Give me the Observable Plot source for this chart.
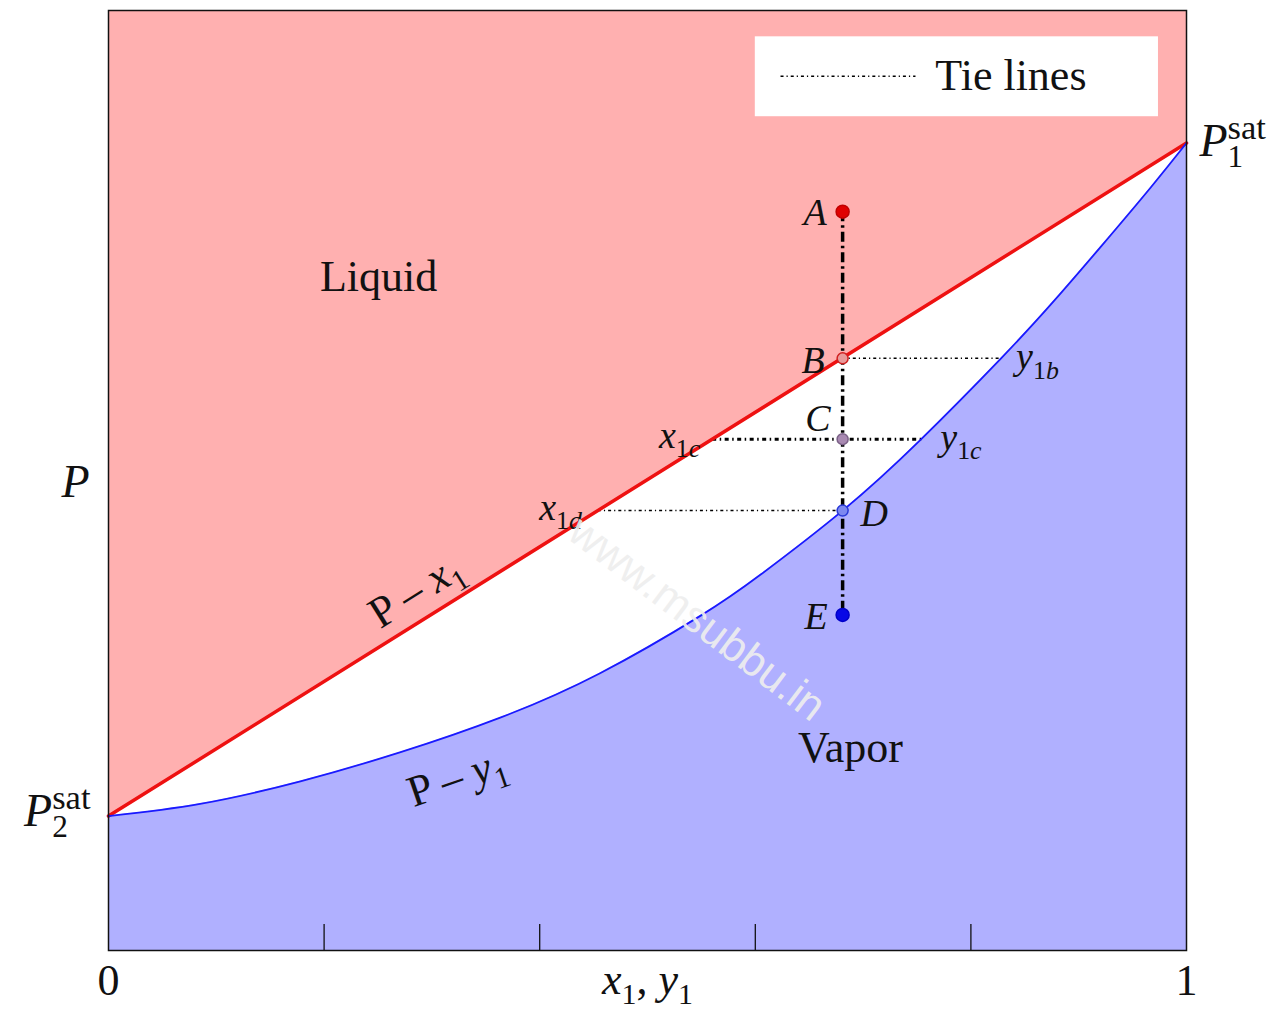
<!DOCTYPE html>
<html>
<head>
<meta charset="utf-8">
<script src="https://cdn.jsdelivr.net/npm/d3@7"></script>
<script src="https://cdn.jsdelivr.net/npm/@observablehq/plot@0.6"></script>
<style>
  html, body { margin: 0; padding: 0; background: #fff; }
</style>
</head>
<body>
<div id="chart"></div>
<script>
// ---- Data: P–x–y diagram of an ideal binary mixture at fixed temperature ----
// Saturation pressures of the pure components (arbitrary pressure units)
const P2sat = 14.3;
const P1sat = 85.9;

// Bubble-point line (P – x1)
const bubbleX1 = [0, 1];
const bubbleP = [P2sat, P1sat];

// Dew-point curve (P – y1)
const dewY1 = [0, 0.085, 0.178, 0.271, 0.364, 0.456, 0.549, 0.605, 0.681, 0.753, 0.828, 0.874, 0.920, 0.967, 1];
const dewP  = [14.3, 15.6, 18.0, 21.1, 24.8, 29.5, 35.6, 40.0, 46.8, 54.3, 63.0, 68.7, 74.8, 81.2, 85.9];

// Isothermal depressurisation of a mixture of overall composition z1
const z1 = 0.681;
const stateNames = ["A", "B", "C", "D", "E"];
const stateP = [78.6, 63.0, 54.4, 46.8, 35.7];

// Tie lines at B, C and D: liquid end x1, vapour end y1
const tieNames = ["b", "c", "d"];
const tieP  = [63.0, 54.4, 46.8];
const tieX1 = [0.681, 0.560, 0.454];
const tieY1 = [0.828, 0.754, 0.681];

// x-axis tick positions and labels
const xTicks = [0.2, 0.4, 0.6, 0.8];
const xTickLabels = [0, 1];

// ---- Tables built from the arrays ----
const bubble = bubbleX1.map((x1, i) => ({x1, P: bubbleP[i]}));
const dew = dewY1.map((y1, i) => ({y1, P: dewP[i]}));
const ties = tieNames.map((name, i) => ({name, P: tieP[i], x1: tieX1[i], y1: tieY1[i]}));

// ---- Styling ----
const PINK = "#ffb0b0", LAVENDER = "#b0b0ff";
const RED = "#ee1111", BLUE = "#1a1aff";
const SERIF = "Liberation Serif";
const Ptop = 100;

const dotStyle = {
  A: {r: 6.5, fill: "#e00000", stroke: "#c00000"},
  B: {r: 5.5, fill: "#e89a9a", stroke: "#d02020"},
  C: {r: 5.5, fill: "#a98ab2", stroke: "#7c6288"},
  D: {r: 5.5, fill: "#7d88f0", stroke: "#2a3ad8"},
  E: {r: 6.5, fill: "#0808e6", stroke: "#0000c8"}
};
// label offsets (px) relative to each state point
const stateLabel = {
  A: {dx: -16, dy: 1, textAnchor: "end"},
  B: {dx: -18, dy: 3, textAnchor: "end"},
  C: {dx: -12, dy: -20, textAnchor: "end"},
  D: {dx: 18, dy: 3, textAnchor: "start"},
  E: {dx: -15, dy: 2, textAnchor: "end"}
};

const thinTie = {stroke: "black", strokeWidth: 1.5, strokeDasharray: "3,3,1.2,3"};
const thickTie = {stroke: "black", strokeWidth: 3, strokeDasharray: "4,3.5,1.5,3.5"};

const txt = (x, y, text, o = {}) =>
  Plot.text([{x, y, text}], {x: "x", y: "y", text: "text", fontSize: 38, fill: "#111", ...o});

const marks = [
  // Liquid region above the bubble line, vapour region below the dew curve
  Plot.areaY(bubble, {x: "x1", y1: "P", y2: Ptop, fill: PINK}),
  Plot.areaY(dew, {x: "y1", y1: 0, y2: "P", fill: LAVENDER, curve: "natural"}),

  // Tie lines
  Plot.link(ties.filter(t => t.name !== "c"), {x1: "x1", x2: "y1", y1: "P", y2: "P", ...thinTie}),
  Plot.link(ties.filter(t => t.name === "c"), {x1: "x1", x2: "y1", y1: "P", y2: "P", ...thickTie}),

  // Path A → E
  Plot.ruleX([z1], {y1: stateP[0], y2: stateP[stateP.length - 1], stroke: "black",
    strokeWidth: 3.5, strokeDasharray: "10,4,2.5,4"}),

  // Saturation curves
  Plot.line(bubble, {x: "x1", y: "P", stroke: RED, strokeWidth: 3.5}),
  Plot.line(dew, {x: "y1", y: "P", stroke: BLUE, strokeWidth: 1.8, curve: "natural"}),

  // State points
  ...stateNames.map((n, i) => Plot.dot([{x: z1, P: stateP[i]}], {x: "x", y: "P", strokeWidth: 1.5, ...dotStyle[n]})),

  // Frame and inner ticks
  Plot.frame({stroke: "#111", strokeWidth: 1.5}),
  Plot.ruleX(xTicks, {x: d => d, insetTop: 914, stroke: "#111", strokeWidth: 1.3}),
  Plot.axisX(xTickLabels, {tickSize: 0, tickPadding: 13, fontSize: 44, label: null, fill: "#111",
    tickFormat: d => String(d)}),

  // Axis titles
  Plot.text(["~x~_{1}, ~y~_{1}"], {x: 0.5, frameAnchor: "bottom", dy: 43, fontSize: 44, fill: "#111"}),
  Plot.text(["~P~"], {frameAnchor: "left", dx: -33, dy: 2, fontSize: 46, fill: "#111", textAnchor: "middle"}),

  // Pure-component saturation pressures
  txt(1, P1sat, "~P~^{sat}_{1}", {dx: 13, dy: -2, fontSize: 46, textAnchor: "start"}),
  txt(0, P2sat, "~P~^{sat}_{2}", {dx: -18, dy: -5, fontSize: 46, textAnchor: "end"}),

  // State letters
  ...stateNames.map((n, i) => txt(z1, stateP[i], `~${n}~`, stateLabel[n])),

  // Tie-line end labels
  txt(tieY1[0], tieP[0], "~y~_{1~b~}", {dx: 15, dy: -1, textAnchor: "start"}),
  txt(tieX1[1], tieP[1], "~x~_{1~c~}", {dx: -12, dy: -3, textAnchor: "end"}),
  txt(tieY1[1], tieP[1], "~y~_{1~c~}", {dx: 19, dy: -1, textAnchor: "start"}),
  txt(tieX1[2], tieP[2], "~x~_{1~d~}", {dx: -16, dy: -3, textAnchor: "end"}),

  // Curve names
  txt(0.285, 38.3, "P – ~x~_{1}", {rotate: -32, fontSize: 44}),
  txt(0.323, 18.4, "P – ~y~_{1}", {rotate: -19, fontSize: 44}),

  // Phase regions
  txt(0.2505, 71.7, "Liquid", {fontSize: 44}),
  txt(0.6883, 21.5, "Vapor", {fontSize: 44}),

  // Legend
  Plot.rect([{}], {x1: 0.600, x2: 0.974, y1: 88.7, y2: 97.2, fill: "white"}),
  Plot.link([{}], {x1: 0.6234, x2: 0.7486, y1: 93.0, y2: 93.0, ...thinTie}),
  txt(0.767, 93.0, "Tie lines", {fontSize: 44, textAnchor: "start"}),

  // Site mark
  Plot.text(["www.msubbu.in"], {x: 0.546, y: 35.3, rotate: 37, fontSize: 44,
    fontFamily: "Liberation Sans", fill: "#eeeeee", fillOpacity: 0.92})
];

const chart = Plot.plot({
  width: 1283,
  height: 1012,
  marginLeft: 108,
  marginRight: 97,
  marginTop: 10,
  marginBottom: 62,
  x: {domain: [0, 1], axis: null},
  y: {domain: [0, Ptop], axis: null},
  style: {background: "white", fontFamily: SERIF, overflow: "visible"},
  marks
});

document.getElementById("chart").appendChild(chart);

// Turn the small markup used in labels into tspans:
// ~ toggles italic, _{...} subscript, ^{...} superscript (a subscript right
// after a superscript is stacked beneath it).
function typeset(svg) {
  const ns = "http://www.w3.org/2000/svg";
  svg.querySelectorAll("text").forEach(el => {
    const src = el.textContent;
    if (!/[~_^]/.test(src)) return;
    const base = parseFloat(getComputedStyle(el).fontSize);
    el.textContent = "";
    let italic = false, shift = 0, drawn = 0, size = base, buf = "", pendingDx = 0;
    let closedSup = null;
    const stack = [];
    const flush = () => {
      if (!buf) return;
      const t = document.createElementNS(ns, "tspan");
      t.textContent = buf;
      t.setAttribute("font-size", size);
      t.setAttribute("font-style", italic ? "italic" : "normal");
      if (shift !== drawn) { t.setAttribute("dy", shift - drawn); drawn = shift; }
      if (pendingDx) { t.setAttribute("dx", pendingDx); pendingDx = 0; }
      el.appendChild(t);
      stack.forEach(g => g.spans.push(t));
      buf = "";
    };
    for (let i = 0; i < src.length; i++) {
      const ch = src[i];
      if ((ch === "_" || ch === "^") && src[i + 1] === "{") {
        flush();
        if (ch === "_" && closedSup) {
          pendingDx = -closedSup.reduce((w, t) => w + t.getComputedTextLength(), 0);
        }
        stack.push({kind: ch, shift, size, spans: []});
        shift += ch === "_" ? base * 0.24 : -base * 0.36;
        size = base * (ch === "^" ? 0.75 : 0.68);
        closedSup = null;
        i++;
        continue;
      }
      if (ch === "}" && stack.length) {
        flush();
        const g = stack.pop();
        shift = g.shift; size = g.size;
        closedSup = g.kind === "^" ? g.spans : null;
        continue;
      }
      if (ch === "~") { flush(); italic = !italic; continue; }
      buf += ch;
      closedSup = null;
    }
    flush();
  });
}
typeset(chart);
</script>
</body>
</html>
